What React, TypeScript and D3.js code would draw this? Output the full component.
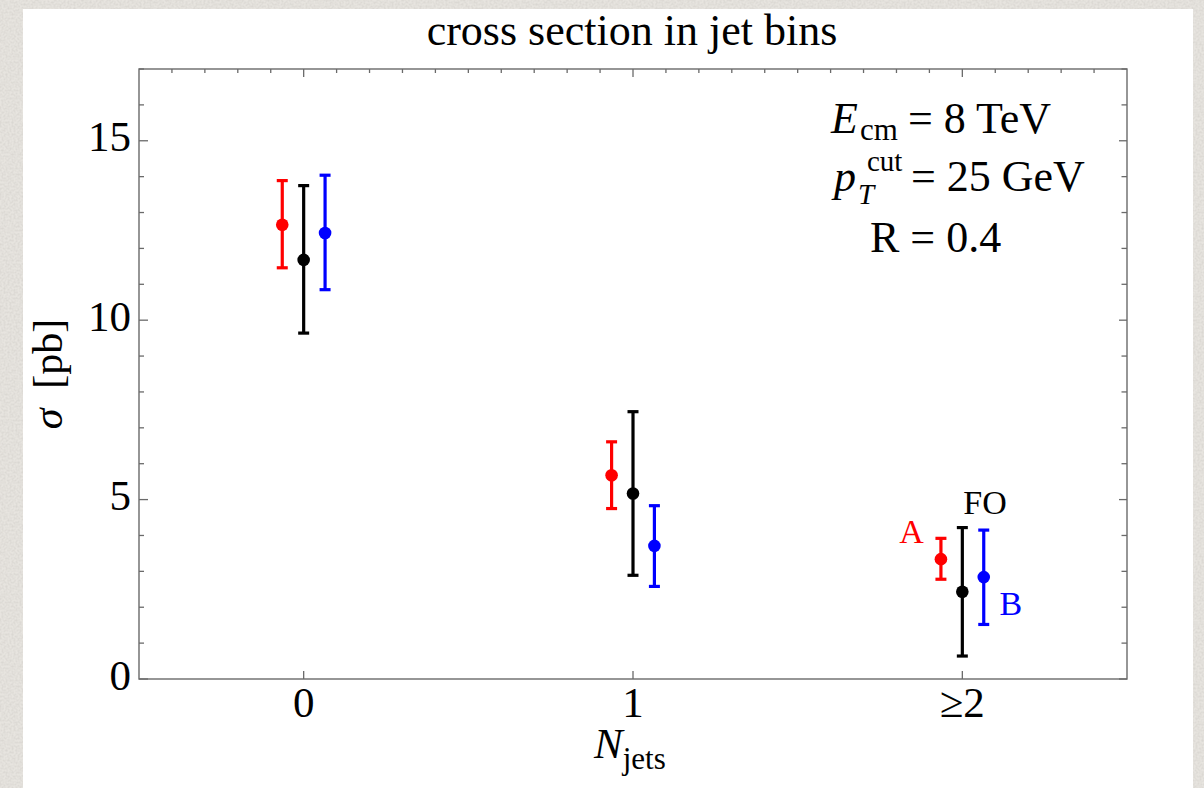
import React from "react";
import * as d3 from "d3";

// Jet multiplicity bins
const categories = ["0", "1", "≥2"];

// Cross sections (pb) with lower / upper uncertainty bounds
const aValues = [12.66, 5.68, 3.34];
const aLow = [11.46, 4.75, 2.78];
const aHigh = [13.89, 6.61, 3.92];

const foValues = [11.68, 5.17, 2.43];
const foLow = [9.64, 2.89, 0.64];
const foHigh = [13.75, 7.45, 4.22];

const bValues = [12.43, 3.71, 2.84];
const bLow = [10.85, 2.58, 1.52];
const bHigh = [14.04, 4.83, 4.15];

const yMajorTicks = [0, 5, 10, 15];

const W = 1204;
const H = 788;
const frame = { left: 139, right: 1127, top: 69, bottom: 679 };
const FONT = "'Liberation Serif', 'Times New Roman', serif";

const series = [
  { name: "A", color: "#ff0000", offset: -0.065, values: aValues, low: aLow, high: aHigh },
  { name: "FO", color: "#000000", offset: 0, values: foValues, low: foLow, high: foHigh },
  { name: "B", color: "#0000ff", offset: 0.065, values: bValues, low: bLow, high: bHigh },
];

export default function App() {
  const x = d3.scaleLinear().domain([-0.5, 2.5]).range([frame.left, frame.right]);
  const y = d3.scaleLinear().domain([0, 17]).range([frame.bottom, frame.top]);

  const yMinor = d3.range(0, 18, 1);
  const xMinorTop = d3.range(-5, 26, 1).map((v) => v / 10);
  const axisColor = "#6a6a6a";

  return (
    <svg
      width={W}
      height={H}
      viewBox={`0 0 ${W} ${H}`}
      style={{ position: "absolute", left: 0, top: 0, display: "block" }}
      fontFamily={FONT}
    >
      <defs>
        <filter id="grain" x="0" y="0" width="100%" height="100%">
          <feTurbulence type="fractalNoise" baseFrequency="0.5" numOctaves="3" seed="7" result="noise" />
          <feColorMatrix
            in="noise"
            type="matrix"
            values="0 0 0 0 0.6  0 0 0 0 0.58  0 0 0 0 0.55  0 0 0 1.2 -0.4"
          />
        </filter>
      </defs>

      {/* paper background */}
      <rect x={0} y={0} width={W} height={H} fill="#e7e4df" />
      <rect x={0} y={0} width={W} height={H} filter="url(#grain)" opacity={0.8} />
      <rect x={23} y={9} width={1170} height={H - 9} fill="#ffffff" />

      {/* title */}
      <text x={632} y={45} textAnchor="middle" fontSize={44} fill="#000">
        cross section in jet bins
      </text>

      {/* frame */}
      <rect
        x={frame.left}
        y={frame.top}
        width={frame.right - frame.left}
        height={frame.bottom - frame.top}
        fill="none"
        stroke={axisColor}
        strokeWidth={1.4}
      />

      {/* left and right ticks */}
      {yMinor.map((v) => {
        const major = v % 5 === 0;
        const yy = y(v);
        return (
          <g key={`yt${v}`} stroke={axisColor} strokeWidth={1.3}>
            <line x1={frame.left} x2={frame.left + (major ? 9 : 5)} y1={yy} y2={yy} />
            <line x1={frame.right} x2={frame.right - (major ? 8 : 5.5)} y1={yy} y2={yy} />
          </g>
        );
      })}

      {/* top ticks */}
      {xMinorTop.map((v, i) => {
        const major = Math.abs(v - Math.round(v)) < 1e-6;
        const xx = x(v);
        if (xx <= frame.left + 0.5 || xx >= frame.right - 0.5) return null;
        return (
          <line
            key={`xt${i}`}
            x1={xx}
            x2={xx}
            y1={frame.top}
            y2={frame.top + (major ? 8 : 4)}
            stroke={axisColor}
            strokeWidth={1.3}
          />
        );
      })}

      {/* bottom ticks and category labels */}
      {categories.map((c, i) => (
        <g key={`cat${c}`}>
          <line
            x1={x(i)}
            x2={x(i)}
            y1={frame.bottom}
            y2={frame.bottom - 8}
            stroke={axisColor}
            strokeWidth={1.3}
          />
          <text x={x(i)} y={717} textAnchor="middle" fontSize={43} fill="#000">
            {c}
          </text>
        </g>
      ))}

      {/* y tick labels */}
      {yMajorTicks.map((v) => (
        <text key={`yl${v}`} x={131} y={y(v) + 10.5} textAnchor="end" fontSize={43} fill="#000">
          {v}
        </text>
      ))}

      {/* axis titles */}
      <text
        transform={`translate(62, ${(frame.top + frame.bottom) / 2}) rotate(-90)`}
        textAnchor="middle"
        fontSize={42}
        fill="#000"
      >
        <tspan fontStyle="italic">σ</tspan>
        <tspan dx={20}>[pb]</tspan>
      </text>
      <text x={594} y={758} fontSize={43} fill="#000">
        <tspan fontStyle="italic">N</tspan>
        <tspan fontSize={31} dy={11}>jets</tspan>
      </text>

      {/* error bars and central values */}
      {series.map((s) =>
        categories.map((c, i) => {
          const cx = x(i + s.offset);
          return (
            <g key={`${s.name}-${c}`} stroke={s.color} fill={s.color}>
              <line x1={cx} x2={cx} y1={y(s.low[i])} y2={y(s.high[i])} strokeWidth={3.2} />
              <line x1={cx - 5.5} x2={cx + 5.5} y1={y(s.high[i])} y2={y(s.high[i])} strokeWidth={3.2} />
              <line x1={cx - 5.5} x2={cx + 5.5} y1={y(s.low[i])} y2={y(s.low[i])} strokeWidth={3.2} />
              <circle cx={cx} cy={y(s.values[i])} r={6.3} stroke="none" />
            </g>
          );
        })
      )}

      {/* series labels in the last bin */}
      <text x={x(2 - 0.154)} y={y(3.79)} textAnchor="middle" fontSize={34} fill="#ff0000">
        A
      </text>
      <text x={x(2 + 0.069)} y={y(4.59)} textAnchor="middle" fontSize={34} fill="#000">
        FO
      </text>
      <text x={x(2 + 0.147)} y={y(1.78)} textAnchor="middle" fontSize={34} fill="#0000ff">
        B
      </text>

      {/* run parameters */}
      <g fontSize={44} fill="#000">
        <text x={831} y={133} fontStyle="italic">E</text>
        <text x={860} y={140} fontSize={31}>cm</text>
        <text x={908} y={133}>= 8 TeV</text>

        <text x={834} y={191} fontStyle="italic">p</text>
        <text x={867} y={171} fontSize={29}>cut</text>
        <text x={858} y={204} fontSize={29} fontStyle="italic">T</text>
        <text x={911} y={191}>= 25 GeV</text>

        <text x={870} y={252}>R = 0.4</text>
      </g>
    </svg>
  );
}
